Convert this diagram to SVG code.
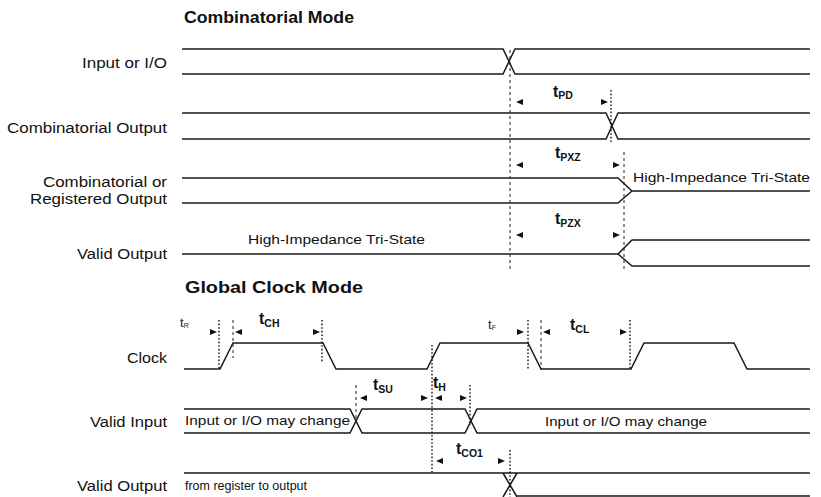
<svg xmlns="http://www.w3.org/2000/svg" xmlns:xlink="http://www.w3.org/1999/xlink" width="821" height="497" viewBox="0 0 821 497">
<style>
.w{fill:none;stroke:#1a1a1a;stroke-width:1.5;stroke-linejoin:miter}
.dash{fill:none;stroke:#222;stroke-width:1;stroke-dasharray:3,3}
.dot{fill:none;stroke:#111;stroke-width:1.4;stroke-dasharray:1.6,2}
.lbl{font-family:"Liberation Sans",Arial,sans-serif;font-size:14px;fill:#111}
.ttl{font-family:"Liberation Sans",Arial,sans-serif;font-size:17px;font-weight:bold;fill:#111}
.tt{font-family:"Liberation Sans",Arial,sans-serif;font-size:16px;font-weight:bold;fill:#111}
.sub{font-size:10.5px}
.tn{font-family:"Liberation Sans",Arial,sans-serif;font-size:13px;fill:#222}
.tns{font-size:7px}
.in{font-family:"Liberation Sans",Arial,sans-serif;font-size:13px;fill:#111}
</style>
<defs>
<polygon id="aL" points="0,0 7,-3 7,3" fill="#111"/>
<polygon id="aR" points="0,0 -7,-3 -7,3" fill="#111"/>
</defs>
<rect width="821" height="497" fill="#fff"/>

<text class="ttl" x="184" y="23" textLength="170" lengthAdjust="spacingAndGlyphs">Combinatorial Mode</text>
<text class="ttl" x="185" y="293" textLength="178" lengthAdjust="spacingAndGlyphs">Global Clock Mode</text>

<g id="row-input">
<text class="lbl" x="82" y="68" textLength="85" lengthAdjust="spacingAndGlyphs">Input or I/O</text>
<path class="w" d="M182,49 H503 L515,74 H810 M182,74 H503 L515,49 H810"/>
</g>

<g id="row-comb-output">
<text class="lbl" x="7" y="133" textLength="160" lengthAdjust="spacingAndGlyphs">Combinatorial Output</text>
<path class="w" d="M182,113 H606 L618,139 H810 M182,139 H606 L618,113 H810"/>
</g>

<g id="row-comb-reg">
<text class="lbl" x="43" y="187" textLength="124" lengthAdjust="spacingAndGlyphs">Combinatorial or</text>
<text class="lbl" x="30" y="204" textLength="137" lengthAdjust="spacingAndGlyphs">Registered Output</text>
<path class="w" d="M182,178 H618 L632,191 H810 M182,203 H618 L632,191"/>
<text class="in" x="633" y="182" textLength="177" lengthAdjust="spacingAndGlyphs">High-Impedance Tri-State</text>
</g>

<g id="row-valid-output-1">
<text class="lbl" x="77" y="259" textLength="90" lengthAdjust="spacingAndGlyphs">Valid Output</text>
<path class="w" d="M182,254 H618 L632,240 H810 M618,254 L632,266 H810"/>
<text class="in" x="248" y="244" textLength="177" lengthAdjust="spacingAndGlyphs">High-Impedance Tri-State</text>
</g>

<g id="row-clock">
<text class="lbl" x="127" y="363" textLength="40" lengthAdjust="spacingAndGlyphs">Clock</text>
<path class="w" d="M184,369 H220 L233,343 H323 L336,369 H427 L440,343 H528 L541,369 H631 L644,343 H734 L747,369 H810"/>
</g>

<g id="row-valid-input">
<text class="lbl" x="90" y="427" textLength="77" lengthAdjust="spacingAndGlyphs">Valid Input</text>
<path class="w" d="M184,409 H350 L362,433 H465 L477,409 H810 M184,433 H350 L362,409 H465 L477,433 H810"/>
<text class="in" x="185" y="425" textLength="165" lengthAdjust="spacingAndGlyphs">Input or I/O may change</text>
<text class="in" x="545" y="426" textLength="162" lengthAdjust="spacingAndGlyphs">Input or I/O may change</text>
</g>

<g id="row-valid-output-2">
<text class="lbl" x="77" y="491" textLength="90" lengthAdjust="spacingAndGlyphs">Valid Output</text>
<path class="w" d="M184,473 H810 M503,473 L517,497 M517,473 L503,497 M517,496 H810"/>
<text class="in" x="185" y="490" textLength="122" lengthAdjust="spacingAndGlyphs">from register to output</text>
</g>

<g id="connectors">
<path class="dash" d="M510,50 V270 M624,152 V270 M233,320 V358 M541,320 V370 M356,385 V422"/>
<path class="dot" d="M611,90 V142 M219,320 V370 M322,320 V362 M528,320 V370 M630,320 V370 M432,345 V472 M470,385 V425 M510,450 V497"/>
<use xlink:href="#aL" x="516" y="102"/><use xlink:href="#aR" x="608" y="102"/>
<use xlink:href="#aL" x="516" y="165"/><use xlink:href="#aR" x="620" y="165"/>
<use xlink:href="#aL" x="516" y="235"/><use xlink:href="#aR" x="620" y="235"/>
<use xlink:href="#aR" x="217" y="332"/><use xlink:href="#aL" x="235" y="332"/><use xlink:href="#aR" x="320" y="332"/>
<use xlink:href="#aR" x="524" y="332"/><use xlink:href="#aL" x="543" y="332"/><use xlink:href="#aR" x="627" y="332"/>
<use xlink:href="#aL" x="360" y="398"/><use xlink:href="#aR" x="428" y="398"/><use xlink:href="#aL" x="435" y="398"/><use xlink:href="#aR" x="467" y="398"/>
<use xlink:href="#aL" x="436" y="461"/><use xlink:href="#aR" x="505" y="461"/>
</g>

<g id="timing-labels">
<text class="tt" x="553" y="97">t<tspan class="sub" dy="2">PD</tspan></text>
<text class="tt" x="555" y="158">t<tspan class="sub" dy="3">PXZ</tspan></text>
<text class="tt" x="555" y="224">t<tspan class="sub" dy="3">PZX</tspan></text>
<text class="tn" x="180" y="327">t<tspan class="tns" dy="1">R</tspan></text>
<text class="tt" x="259" y="324">t<tspan class="sub" dy="3">CH</tspan></text>
<text class="tn" x="488" y="329">t<tspan class="tns" dy="1">F</tspan></text>
<text class="tt" x="570" y="330">t<tspan class="sub" dy="3">CL</tspan></text>
<text class="tt" x="373" y="390">t<tspan class="sub" dy="3">SU</tspan></text>
<text class="tt" x="433" y="388">t<tspan class="sub" dy="3">H</tspan></text>
<text class="tt" x="456" y="454">t<tspan class="sub" dy="3">CO1</tspan></text>
</g>
</svg>
